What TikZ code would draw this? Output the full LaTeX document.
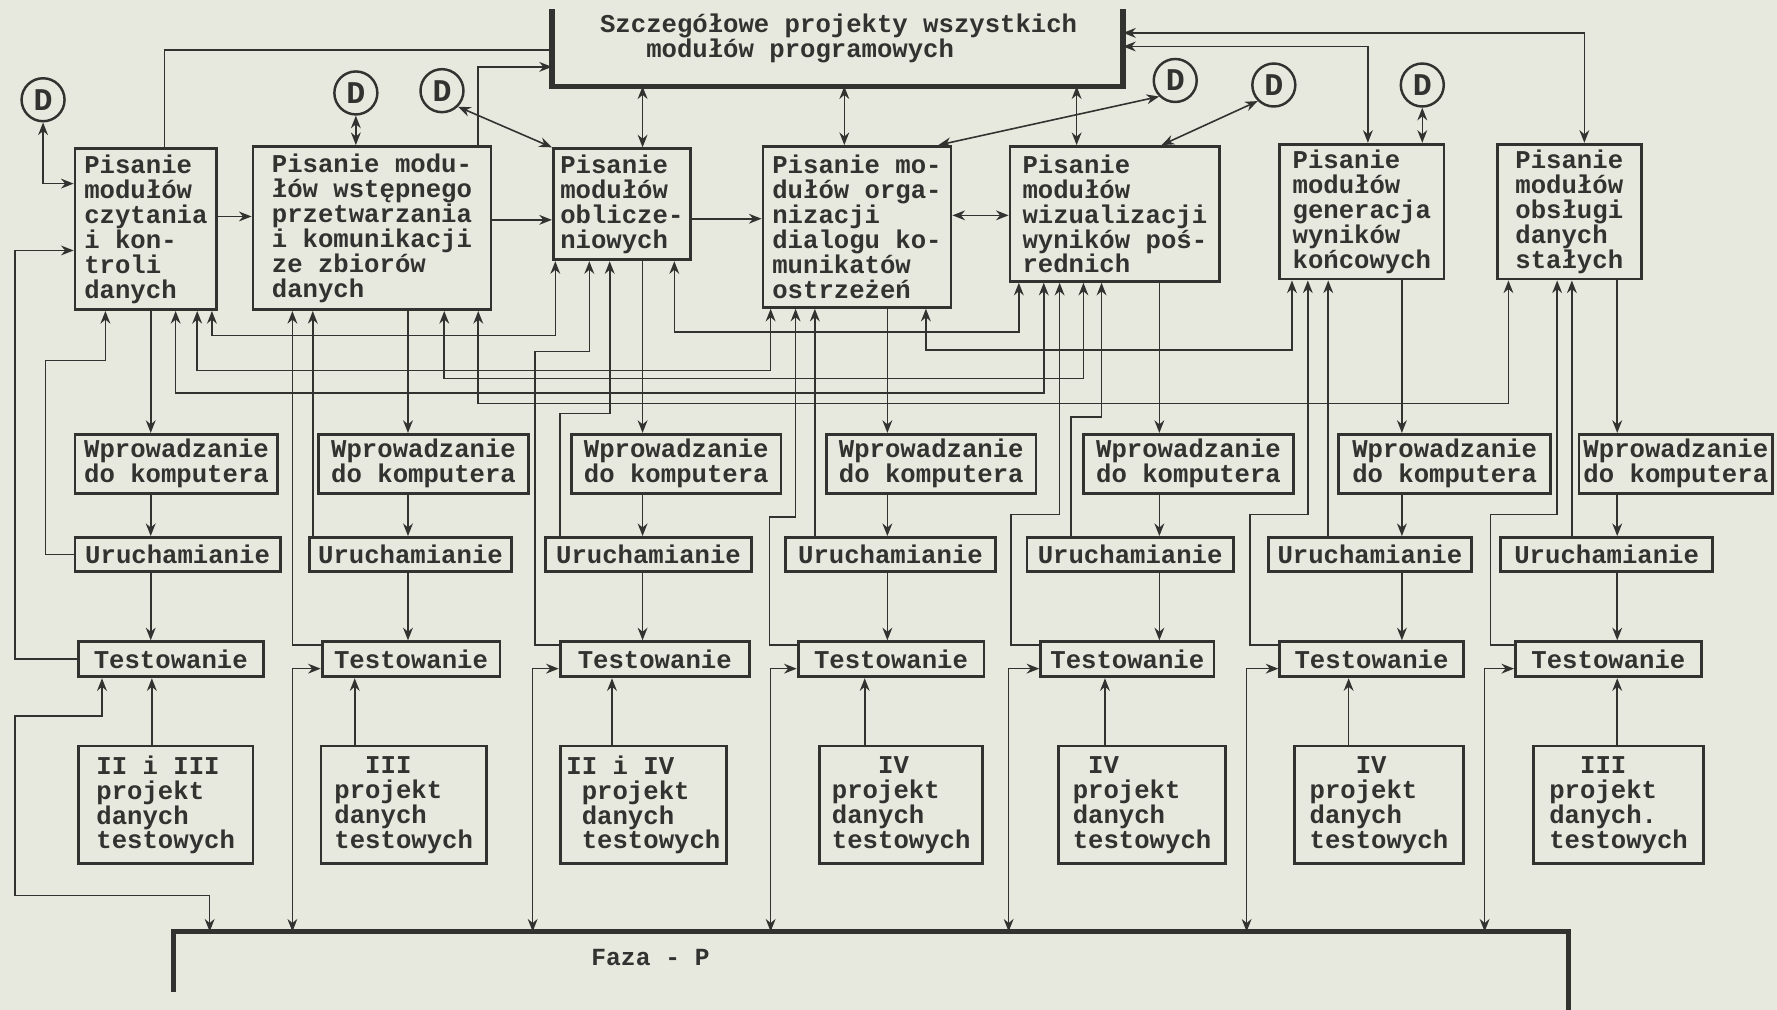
\documentclass[tikz,border=0pt]{standalone}
\usepackage{fontspec}
\setmonofont{Liberation Mono}
\usetikzlibrary{arrows.meta}
\definecolor{paper}{RGB}{231,232,222}
\definecolor{ink}{RGB}{50,50,48}
\tikzset{
  typed/.style={text=ink, font=\ttfamily\bfseries\fontsize{7.3}{7.1}\selectfont},
  box/.style={typed, draw=ink, line width=0.8pt, anchor=north west, align=left, inner sep=1pt},
  wire/.style={draw=ink, line width=0.45pt},
  heavy/.style={draw=ink, line width=1.5pt},
  dnode/.style={circle, draw=ink, line width=0.7pt, minimum size=0.43cm, inner sep=0pt, text=ink, font=\ttfamily\bfseries\small},
}
\begin{document}
\begin{tikzpicture}[x=0.011333cm, y=-0.011333cm, >={Stealth[length=3.6pt,width=2.8pt]}]
        \fill[paper] (0,0) rectangle (1568,891);
        \useasboundingbox (0,0) rectangle (1568,891);
        % Top frame
        \node[anchor=north west, minimum width=5.700cm, minimum height=0.759cm, inner sep=0pt] (top) at (487,8) {};
        \draw[heavy] (top.north west) -- (top.south west) -- (top.south east) -- (top.north east);
        \node[typed, align=left] (toptxt) at (740,34) {Szczegółowe projekty wszystkich\\~~~modułów programowych};
        % Phase frame
        \node[anchor=north west, minimum width=13.940cm, minimum height=0.782cm, inner sep=0pt] (faza) at (153,822) {};
        \draw[heavy] ([yshift=-0.6cm]faza.north west) -- (faza.north west) -- (faza.north east) -- (faza.south east);
        \node[text=ink, font=\ttfamily\bfseries\fontsize{7}{8}\selectfont] (fazatxt) at (574,845) {Faza - P};
        % D circles
        \node[dnode] (d1) at (38,88) {D};
        \node[dnode] (d2) at (314,82) {D};
        \node[dnode] (d3) at (390,80) {D};
        \node[dnode] (d4) at (1037,71) {D};
        \node[dnode] (d5) at (1124,75) {D};
        \node[dnode] (d6) at (1255,75) {D};
        % Modules
        \node[box, minimum width=1.417cm, minimum height=1.609cm] (b1) at (65,130) {Pisanie\\modułów\\czytania\\i kon-\\troli\\danych};
        \node[box, minimum width=2.380cm, minimum height=1.632cm] (b2) at (222,128) {Pisanie modu-\\łów wstępnego\\przetwarzania\\i komunikacji\\ze zbiorów\\danych};
        \node[box, minimum width=1.371cm, minimum height=1.111cm] (b3) at (487,130) {Pisanie\\modułów\\oblicze-\\niowych};
        \node[box, minimum width=1.881cm, minimum height=1.609cm] (b4) at (672,128) {Pisanie mo-\\dułów orga-\\nizacji\\dialogu ko-\\munikatów\\ostrzeżeń};
        \node[box, minimum width=2.097cm, minimum height=1.349cm] (b5) at (890,128) {Pisanie\\modułów\\wizualizacji\\wyników poś-\\rednich};
        \node[box, minimum width=1.643cm, minimum height=1.349cm] (b6) at (1128,126) {Pisanie\\modułów\\generacja\\wyników\\końcowych};
        \node[box, minimum width=1.439cm, minimum height=1.349cm] (b7) at (1320,126) {Pisanie\\modułów\\obsługi\\danych\\stałych};
        % Input
        \node[box, minimum width=2.029cm, minimum height=0.589cm] (w1) at (65,382) {Wprowadzanie\\do komputera};
        \node[box, minimum width=2.097cm, minimum height=0.589cm] (w2) at (280,382) {Wprowadzanie\\do komputera};
        \node[box, minimum width=2.097cm, minimum height=0.589cm] (w3) at (503,382) {Wprowadzanie\\do komputera};
        \node[box, minimum width=2.097cm, minimum height=0.589cm] (w4) at (728,382) {Wprowadzanie\\do komputera};
        \node[box, minimum width=2.097cm, minimum height=0.589cm] (w5) at (955,382) {Wprowadzanie\\do komputera};
        \node[box, minimum width=2.119cm, minimum height=0.589cm] (w6) at (1180,382) {Wprowadzanie\\do komputera};
        \node[box, minimum width=1.938cm, minimum height=0.589cm] (w7) at (1392,382) {Wprowadzanie\\do komputera};
        % Start-up
        \node[box, minimum width=2.051cm, minimum height=0.340cm] (u1) at (65,473) {Uruchamianie};
        \node[box, minimum width=2.017cm, minimum height=0.340cm] (u2) at (272,473) {Uruchamianie};
        \node[box, minimum width=2.063cm, minimum height=0.340cm] (u3) at (480,473) {Uruchamianie};
        \node[box, minimum width=2.097cm, minimum height=0.340cm] (u4) at (692,473) {Uruchamianie};
        \node[box, minimum width=2.063cm, minimum height=0.340cm] (u5) at (905,473) {Uruchamianie};
        \node[box, minimum width=2.029cm, minimum height=0.340cm] (u6) at (1118,473) {Uruchamianie};
        \node[box, minimum width=2.119cm, minimum height=0.340cm] (u7) at (1323,473) {Uruchamianie};
        % Testing
        \node[box, minimum width=1.847cm, minimum height=0.351cm] (t1) at (68,565) {Testowanie};
        \node[box, minimum width=1.779cm, minimum height=0.351cm] (t2) at (283,565) {Testowanie};
        \node[box, minimum width=1.893cm, minimum height=0.351cm] (t3) at (493,565) {Testowanie};
        \node[box, minimum width=1.859cm, minimum height=0.351cm] (t4) at (703,565) {Testowanie};
        \node[box, minimum width=1.734cm, minimum height=0.351cm] (t5) at (917,565) {Testowanie};
        \node[box, minimum width=1.836cm, minimum height=0.351cm] (t6) at (1128,565) {Testowanie};
        \node[box, minimum width=1.859cm, minimum height=0.351cm] (t7) at (1336,565) {Testowanie};
        % Test data
        \node[box, minimum width=1.745cm, minimum height=1.179cm] (p1) at (68,657) {II i III\\projekt\\danych\\testowych};
        \node[box, minimum width=1.655cm, minimum height=1.179cm] (p2) at (282,657) {~~III\\projekt\\danych\\testowych};
        \node[box, minimum width=1.666cm, minimum height=1.179cm] (p3) at (493,657) {II i IV\\~projekt\\~danych\\~testowych};
        \node[box, minimum width=1.632cm, minimum height=1.179cm] (p4) at (722,657) {~~~IV\\projekt\\danych\\testowych};
        \node[box, minimum width=1.666cm, minimum height=1.179cm] (p5) at (933,657) {~IV\\projekt\\danych\\testowych};
        \node[box, minimum width=1.689cm, minimum height=1.179cm] (p6) at (1141,657) {~~~IV\\projekt\\danych\\testowych};
        \node[box, minimum width=1.700cm, minimum height=1.179cm] (p7) at (1352,657) {~~III\\projekt\\danych.\\testowych};
        % Links to the top frame
        \draw[wire] (b1.north -| 145,0) |- (top.west |- 0,44);
        \draw[wire,->] (b2.north -| 422,0) |- (top.west |- 0,59);
        \draw[wire,<->] (top.south -| 567,0) -- (b3.north -| 567,0);
        \draw[wire,<->] (top.south -| 745,0) -- (b4.north -| 745,0);
        \draw[wire,<->] (top.south -| 950,0) -- (b5.north -| 950,0);
        \draw[wire,<->] (top.east |- 0,41) -| (b6.north -| 1207,0);
        \draw[wire,<->] (top.east |- 0,29) -| (b7.north -| 1398,0);
        % D links
        \draw[wire,<->] (d1.south) |- (b1.west |- 0,162);
        \draw[wire,<->] (d2.south) -- (b2.north -| d2.south);
        \draw[wire,<->] (d3.south east) -- (b3.north west);
        \draw[wire,<->] (d4.south west) -- (b4.north -| 828,0);
        \draw[wire,<->] (d5.south west) -- (b5.north -| 1025,0);
        \draw[wire,<->] (d6.south) -- (b6.north -| d6.south);
        % Between modules
        \draw[wire,->] (b1.east |- 0,191) -- (b2.west |- 0,191);
        \draw[wire,->] (b2.east |- 0,194) -- (b3.west |- 0,194);
        \draw[wire,->] (b3.east |- 0,193) -- (b4.west |- 0,193);
        \draw[wire,<->] (b4.east |- 0,190) -- (b5.west |- 0,190);
        % Columns
        \draw[wire,->] (b1.south -| 133,0) -- (w1.north -| 133,0);
        \draw[wire,->] (w1.south -| 133,0) -- (u1.north -| 133,0);
        \draw[wire,->] (u1.south -| 133,0) -- (t1.north -| 133,0);
        \draw[wire,->] (b2.south -| 360,0) -- (w2.north -| 360,0);
        \draw[wire,->] (w2.south -| 360,0) -- (u2.north -| 360,0);
        \draw[wire,->] (u2.south -| 360,0) -- (t2.north -| 360,0);
        \draw[wire,->] (b3.south -| 567,0) -- (w3.north -| 567,0);
        \draw[wire,->] (w3.south -| 567,0) -- (u3.north -| 567,0);
        \draw[wire,->] (u3.south -| 567,0) -- (t3.north -| 567,0);
        \draw[wire,->] (b4.south -| 783,0) -- (w4.north -| 783,0);
        \draw[wire,->] (w4.south -| 783,0) -- (u4.north -| 783,0);
        \draw[wire,->] (u4.south -| 783,0) -- (t4.north -| 783,0);
        \draw[wire,->] (b5.south -| 1023,0) -- (w5.north -| 1023,0);
        \draw[wire,->] (w5.south -| 1023,0) -- (u5.north -| 1023,0);
        \draw[wire,->] (u5.south -| 1023,0) -- (t5.north -| 1023,0);
        \draw[wire,->] (b6.south -| 1237,0) -- (w6.north -| 1237,0);
        \draw[wire,->] (w6.south -| 1237,0) -- (u6.north -| 1237,0);
        \draw[wire,->] (u6.south -| 1237,0) -- (t6.north -| 1237,0);
        \draw[wire,->] (b7.south -| 1427,0) -- (w7.north -| 1427,0);
        \draw[wire,->] (w7.south -| 1427,0) -- (u7.north -| 1427,0);
        \draw[wire,->] (u7.south -| 1427,0) -- (t7.north -| 1427,0);
        % Test data into testing
        \draw[wire,->] (p1.north -| 134,0) -- (t1.south -| 134,0);
        \draw[wire,->] (p2.north -| 313,0) -- (t2.south -| 313,0);
        \draw[wire,->] (p3.north -| 540,0) -- (t3.south -| 540,0);
        \draw[wire,->] (p4.north -| 763,0) -- (t4.south -| 763,0);
        \draw[wire,->] (p5.north -| 975,0) -- (t5.south -| 975,0);
        \draw[wire,->] (p6.north -| 1190,0) -- (t6.south -| 1190,0);
        \draw[wire,->] (p7.north -| 1427,0) -- (t7.south -| 1427,0);
        % Phase links
        \draw[wire,<->] (faza.north -| 185,0) -- (185,790) -| (13,632) -| (t1.south -| 90,0);
        \draw[wire,<->] (faza.north -| 258,0) |- (t2.west |- 0,590);
        \draw[wire,<->] (faza.north -| 470,0) |- (t3.west |- 0,590);
        \draw[wire,<->] (faza.north -| 680,0) |- (t4.west |- 0,590);
        \draw[wire,<->] (faza.north -| 890,0) |- (t5.west |- 0,590);
        \draw[wire,<->] (faza.north -| 1100,0) |- (t6.west |- 0,590);
        \draw[wire,<->] (faza.north -| 1310,0) |- (t7.west |- 0,590);
        % Testing back to modules
        \draw[wire,->] (t1.west) -| (13,221) -- (b1.west |- 0,221);
        \draw[wire,->] (t2.west |- 0,569) -| (b2.south -| 258,0);
        \draw[wire,->] (t3.west |- 0,569) -| (472,310) -| (b3.south -| 520,0);
        \draw[wire,->] (t4.west |- 0,569) -| (679,456) -| (b4.south -| 702,0);
        \draw[wire,->] (t5.west |- 0,569) -| (892,454) -| (b5.south -| 935,0);
        \draw[wire,->] (t6.west |- 0,569) -| (1103,454) -| (b6.south -| 1154,0);
        \draw[wire,->] (t7.west |- 0,569) -| (1315,454) -| (b7.south -| 1374,0);
        % Start-up back to modules
        \draw[wire,->] (u1.west) -| (40,318) -| (b1.south -| 93,0);
        \draw[wire,->] (u2.north -| 276,0) -- (b2.south -| 276,0);
        \draw[wire,->] (u3.north -| 494,0) |- (538,365) -- (b3.south -| 538,0);
        \draw[wire,->] (u4.north -| 719,0) -- (b4.south -| 719,0);
        \draw[wire,->] (u5.north -| 945,0) |- (972,368) -- (b5.south -| 972,0);
        \draw[wire,->] (u6.north -| 1172,0) -- (b6.south -| 1172,0);
        \draw[wire,->] (u7.north -| 1387,0) -- (b7.south -| 1387,0);
        % Cross links
        \draw[wire,<->] (b1.south -| 187,0) -- (187,296) -| (b3.south -| 490,0);
        \draw[wire,<->] (b1.south -| 174,0) -- (174,327) -| (b4.south -| 680,0);
        \draw[wire,<->] (b1.south -| 155,0) -- (155,347) -| (b5.south -| 921,0);
        \draw[wire,<->] (b2.south -| 392,0) -- (392,334) -| (b5.south -| 956,0);
        \draw[wire,<->] (b2.south -| 422,0) -- (422,356) -| (b7.south -| 1331,0);
        \draw[wire,<->] (b3.south -| 595,0) -- (595,293) -| (b5.south -| 899,0);
        \draw[wire,<->] (b4.south -| 817,0) -- (817,309) -| (b6.south -| 1140,0);
\end{tikzpicture}
\end{document}
